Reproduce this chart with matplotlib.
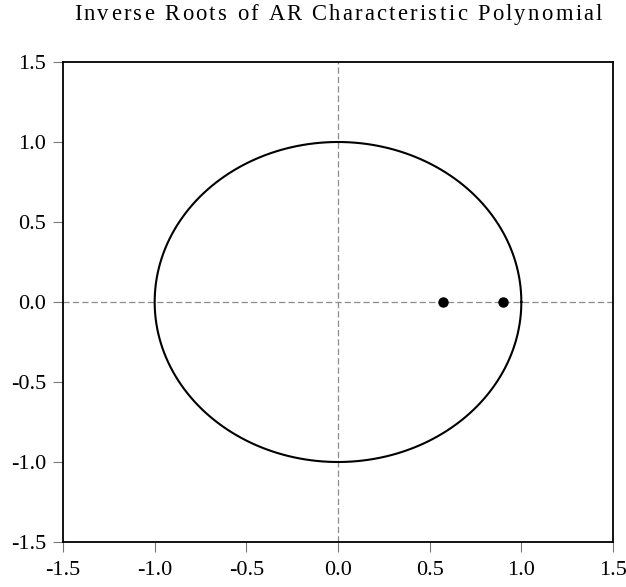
import numpy as np
import matplotlib.pyplot as plt

plt.rcParams['font.family'] = ['Liberation Serif', 'DejaVu Serif']

# inverse roots (real, imaginary)
root_re = [0.57, 0.90]
root_im = [0.0, 0.0]
ticks = [-1.5, -1.0, -0.5, 0.0, 0.5, 1.0, 1.5]
tick_labels = ['-1.5', '-1.0', '-0.5', '0.0', '0.5', '1.0', '1.5']
title = 'Inverse Roots of AR Characteristic Polynomial'

fig = plt.figure(figsize=(6.26, 5.87), dpi=100)
ax = fig.add_axes([63 / 626, 45 / 587, 550 / 626, 480 / 587])

theta = np.linspace(0, 2 * np.pi, 400)
ax.plot(np.cos(theta), np.sin(theta), color='black', lw=1.5)
ax.axhline(0, color='#8c8c8c', lw=0.9, ls=(0, (5, 2.5)), zorder=1)
ax.axvline(0, color='#8c8c8c', lw=0.9, ls=(0, (5, 2.5)), zorder=1)
ax.plot(root_re, root_im, 'o', color='black', ms=6.5, zorder=3)

ax.set_xlim(-1.5, 1.5)
ax.set_ylim(-1.5, 1.5)
ax.set_xticks(ticks)
ax.set_xticklabels(tick_labels)
ax.set_yticks(ticks)
ax.set_yticklabels(tick_labels)
ax.tick_params(direction='out', length=7, width=0.8, color='#777777',
               labelsize=16)
ax.tick_params(axis='x', pad=7)
ax.tick_params(axis='y', pad=5)
for s in ax.spines.values():
    s.set_linewidth(1.3)

# title drawn with a little letter spacing, centred over the axes
r = fig.canvas.get_renderer()
fsize = 16.3
extra = 2.3  # px between letters


def width_px(txt):
    t = fig.text(0, 0, txt + '|', fontsize=fsize)
    w = t.get_window_extent(r).width
    t.remove()
    return w


bar_w = width_px('')
adv = [width_px(title[:i]) - bar_w for i in range(len(title) + 1)]
total = adv[-1] + extra * (len(title) - 1)
x0 = 338 - total / 2
y0 = 587 - 20
for i, ch in enumerate(title):
    if ch == ' ':
        continue
    fig.text((x0 + adv[i] + extra * i) / 626, y0 / 587, ch,
             fontsize=fsize, va='baseline', ha='left')

fig.savefig('out.png', dpi=100)
